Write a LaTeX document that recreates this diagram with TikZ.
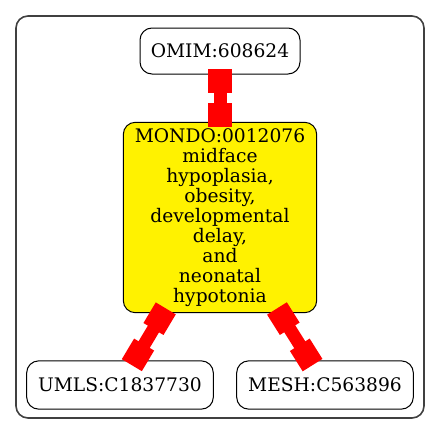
\documentclass[tikz,border=0pt]{standalone}
\usepackage{fontspec}
\setmainfont{DejaVu Serif}
\usetikzlibrary{arrows.meta}
\begin{document}
\begin{tikzpicture}[x=0.75pt,y=-0.75pt,
  nd/.style={draw=black,line width=0.75pt,rounded corners=9pt,inner sep=0pt,align=center,font=\fontsize{14}{15}\selectfont},
  lnk/.style={draw=red,line width=9.75pt,{Square[length=18pt,width=17.5pt]}-{Square[length=18pt,width=17.5pt]},shorten <=-4.2pt,shorten >=-4.2pt}]
\useasboundingbox (0,0) rectangle (440,436);
\draw[black!75,line width=1.2pt,rounded corners=9pt] (16,16) rectangle (424,418);
\node[nd,minimum width=120pt,minimum height=34.5pt] (omim) at (220,51) {OMIM:608624};
\node[nd,fill=yellow,minimum width=145pt,minimum height=142.8pt] (mondo) at (220,217.5) {MONDO:0012076\\midface\\hypoplasia,\\obesity,\\developmental\\delay,\\and\\neonatal\\hypotonia};
\node[nd,minimum width=140pt,minimum height=36.2pt] (umls) at (120,385) {UMLS:C1837730};
\node[nd,minimum width=132.5pt,minimum height=36.2pt] (mesh) at (325,385) {MESH:C563896};
\draw[lnk] (omim) -- (mondo);
\draw[lnk] (mondo) -- (umls);
\draw[lnk] (mondo) -- (mesh);
\end{tikzpicture}
\end{document}
